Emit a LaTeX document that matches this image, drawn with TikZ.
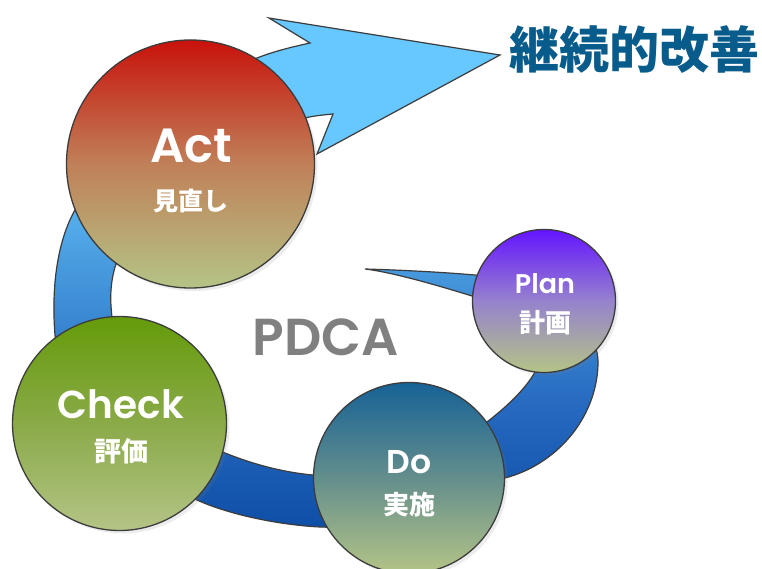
\documentclass[tikz,border=0pt]{standalone}
\usepackage{fontspec}
\newfontfamily\enfont{Poppins}[UprightFont={* SemiBold}]
\newfontfamily\jpfont{Noto Sans CJK JP}
\usepackage{tikz}
\usetikzlibrary{positioning}
\usetikzlibrary{shadows}
\usepackage{color}

\definecolor{bandlight}{RGB}{102,200,255}
\definecolor{bandmid}{RGB}{72,155,222}
\definecolor{banddeep}{RGB}{38,105,192}
\definecolor{banddark}{RGB}{14,78,166}
\definecolor{olive}{RGB}{180,196,134}
\definecolor{actred}{RGB}{200,18,12}
\definecolor{actmid}{RGB}{192,128,88}
\definecolor{checkgreen}{RGB}{100,155,10}
\definecolor{checkmid}{RGB}{138,170,72}
\definecolor{doblue}{RGB}{22,98,150}
\definecolor{domid}{RGB}{100,142,140}
\definecolor{planviolet}{RGB}{100,20,255}
\definecolor{planmid}{RGB}{150,130,205}
\definecolor{titleblue}{RGB}{8,92,140}
\definecolor{rim}{RGB}{60,60,60}

\pgfdeclareverticalshading{bandshade}{100bp}{color(0bp)=(banddark); color(25bp)=(banddark); color(37bp)=(banddeep); color(51bp)=(bandmid); color(62bp)=(bandlight); color(100bp)=(bandlight)}

\tikzset{
  band/.style={draw=rim, line width=1.2pt, shading=bandshade},
  phase/.style={circle, draw=rim, line width=1.3pt, inner sep=0pt,
    drop shadow={opacity=0.15, shadow xshift=3pt, shadow yshift=-3pt}},
  entext/.style={text=white, inner sep=0pt, font=\enfont\fontsize{#1}{#1}\selectfont},
  jptext/.style={text=white, inner sep=0pt, font=\jpfont\bfseries\fontsize{#1}{#1}\selectfont},
}

\begin{document}
\begin{tikzpicture}[x=1pt, y=-1pt]

  \useasboundingbox (0,0) rectangle (762,569);
  \fill[white] (0,0) rectangle (762,569);

  % Arrow band
  \draw[band] (365,269)
    .. controls (400,270) and (440,272) .. (475,275)
    .. controls (540,279) and (600,320) .. (598,365)
    .. controls (596,420) and (555,465) .. (505,478)
    .. controls (470,488) and (380,530) .. (320,527)
    .. controls (280,525) and (230,515) .. (197,500)
    .. controls (120,470) and (60,400) .. (55,335)
    .. controls (51,285) and (58,240) .. (75,210)
    .. controls (105,150) and (190,85) .. (257,58)
    .. controls (275,51) and (292,47) .. (310,43)
    -- (269,18) -- (500,55) -- (317,154) -- (333,114)
    .. controls (322,115) and (313,116) .. (305,118)
    .. controls (250,125) and (140,200) .. (115,267)
    .. controls (110,285) and (110,300) .. (112,317)
    .. controls (115,380) and (170,430) .. (225,453)
    .. controls (250,463) and (280,472) .. (313,475)
    .. controls (380,478) and (450,455) .. (487,422)
    .. controls (505,408) and (525,390) .. (535,372)
    .. controls (545,340) and (520,305) .. (472,296)
    .. controls (430,283) and (390,272) .. (365,269) -- cycle;

  % Define nodes
  \node[phase, minimum size=248pt, top color=actred, bottom color=olive, middle color=actmid] (act) at (190.5,164) {};
  \node[phase, minimum size=214pt, top color=checkgreen, bottom color=olive, middle color=checkmid] (check) at (119.5,423.5) {};
  \node[phase, minimum size=191pt, top color=doblue, bottom color=olive, middle color=domid] (do) at (409,478) {};
  \node[phase, minimum size=143pt, top color=planviolet, bottom color=olive, middle color=planmid] (plan) at (544,301) {};

  % Labels
  \node[entext=48, anchor=base] (actEn) at (191,163) {Act};
  \node[jptext=25, below=25pt of actEn] (actJp) {見直し};
  \node[entext=39, anchor=base] (checkEn) at (121,418) {Check};
  \node[jptext=27, below=20pt of checkEn] (checkJp) {評価};
  \node[entext=33, anchor=base] (doEn) at (409,473) {Do};
  \node[jptext=26, below=19pt of doEn] (doJp) {実施};
  \node[entext=27, anchor=base] (planEn) at (545,293) {Plan};
  \node[jptext=26, below=17pt of planEn] (planJp) {計画};

  \node[inner sep=0pt, anchor=base, text={rgb,255:red,128;green,128;blue,128},
    font=\enfont\fontsize{52}{52}\selectfont] (pdca) at (325.5,355) {PDCA};
  \node[inner sep=0pt, text=titleblue, font=\jpfont\bfseries\fontsize{50}{50}\selectfont] (goal) at (634,50) {継続的改善};

\end{tikzpicture}
\end{document}
